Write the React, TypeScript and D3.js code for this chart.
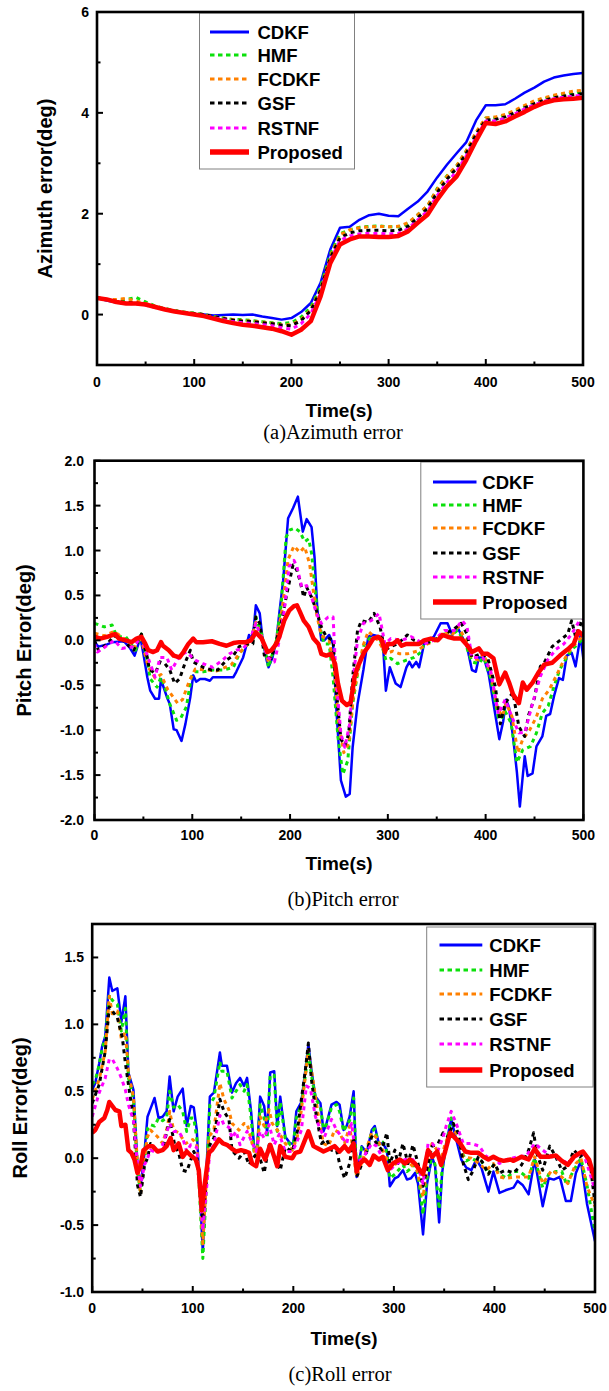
import React from "react";
import * as d3 from "d3";

type Pt = [number, number];

const seriesNames = ["CDKF", "HMF", "FCDKF", "GSF", "RSTNF", "Proposed"];
const seriesColors = ["#0000ff", "#0be00b", "#ff8000", "#000000", "#ff00ff", "#ff0000"];
const seriesWidths = [2.5, 3, 3, 3, 3, 4.5];
const legendWidths = [3, 3, 3, 3, 3, 5.5];
const seriesDash = [undefined, "4 4", "4 4", "4 4", "4 4", undefined];
const timeMajor = [0, 100, 200, 300, 400, 500];
const timeMinor = [50, 150, 250, 350, 450];

// (a) azimuth error, sampled every 10 s
const azTime = d3.range(0, 501, 10);
const azCDKF = [0.33, 0.28, 0.24, 0.22, 0.22, 0.2, 0.15, 0.1, 0.06, 0.03, 0.01, 0.0, -0.02, -0.01, 0.0, -0.01, 0.0, -0.04, -0.07, -0.1, -0.07, 0.05, 0.23, 0.63, 1.29, 1.72, 1.74, 1.88, 1.97, 2.0, 1.96, 1.95, 2.1, 2.24, 2.44, 2.72, 2.97, 3.2, 3.42, 3.85, 4.15, 4.15, 4.17, 4.28, 4.4, 4.5, 4.62, 4.7, 4.74, 4.77, 4.79];
const azHMF = [0.33, 0.3, 0.28, 0.3, 0.34, 0.25, 0.17, 0.12, 0.08, 0.05, 0.03, 0.0, -0.04, -0.07, -0.1, -0.1, -0.12, -0.14, -0.16, -0.18, -0.16, -0.05, 0.15, 0.55, 1.2, 1.6, 1.68, 1.73, 1.75, 1.76, 1.74, 1.74, 1.8, 1.98, 2.15, 2.5, 2.75, 2.95, 3.25, 3.6, 3.9, 3.9, 3.95, 4.03, 4.12, 4.2, 4.28, 4.33, 4.37, 4.4, 4.42];
const azFCDKF = [0.33, 0.3, 0.3, 0.32, 0.27, 0.22, 0.16, 0.11, 0.07, 0.04, 0.02, 0.0, -0.04, -0.07, -0.1, -0.12, -0.13, -0.15, -0.17, -0.2, -0.2, -0.1, 0.1, 0.5, 1.15, 1.58, 1.68, 1.72, 1.74, 1.75, 1.74, 1.75, 1.82, 1.98, 2.16, 2.48, 2.74, 2.95, 3.25, 3.62, 3.9, 3.92, 3.97, 4.05, 4.15, 4.24, 4.3, 4.35, 4.39, 4.43, 4.45];
const azGSF = [0.33, 0.3, 0.26, 0.24, 0.23, 0.2, 0.15, 0.1, 0.07, 0.04, 0.02, 0.0, -0.04, -0.08, -0.11, -0.13, -0.14, -0.16, -0.18, -0.21, -0.22, -0.12, 0.08, 0.48, 1.12, 1.52, 1.62, 1.66, 1.67, 1.67, 1.66, 1.67, 1.75, 1.92, 2.1, 2.42, 2.68, 2.9, 3.2, 3.57, 3.86, 3.87, 3.92, 4.0, 4.1, 4.18, 4.25, 4.3, 4.33, 4.36, 4.38];
const azRSTNF = [0.33, 0.3, 0.25, 0.22, 0.21, 0.19, 0.14, 0.1, 0.06, 0.03, 0.0, -0.02, -0.06, -0.1, -0.14, -0.16, -0.18, -0.2, -0.22, -0.26, -0.29, -0.18, 0.02, 0.42, 1.08, 1.47, 1.56, 1.6, 1.61, 1.61, 1.6, 1.61, 1.7, 1.88, 2.05, 2.36, 2.62, 2.84, 3.15, 3.52, 3.84, 3.84, 3.9, 3.98, 4.08, 4.16, 4.23, 4.28, 4.31, 4.33, 4.35];
const azProposed = [0.33, 0.3, 0.25, 0.22, 0.22, 0.2, 0.15, 0.1, 0.06, 0.03, 0.0, -0.03, -0.08, -0.13, -0.17, -0.2, -0.22, -0.25, -0.28, -0.33, -0.4, -0.3, -0.13, 0.36, 1.02, 1.39, 1.49, 1.55, 1.55, 1.54, 1.54, 1.56, 1.65, 1.82, 1.98, 2.28, 2.54, 2.74, 3.07, 3.45, 3.8, 3.78, 3.83, 3.93, 4.02, 4.12, 4.2, 4.25, 4.27, 4.28, 4.3];

// (b) pitch error, [time, value]
const pitchCDKF: Pt[] = [[0,-0.02],[4,-0.07],[12,-0.05],[18,-0.02],[30,-0.01],[36,-0.08],[41,-0.17],[47,0.03],[50,-0.15],[54,-0.41],[57,-0.56],[62,-0.65],[66,-0.65],[68,-0.43],[70,-0.5],[74,-0.63],[77,-0.71],[81,-0.99],[84,-1.0],[89,-1.12],[93,-0.93],[98,-0.63],[101,-0.39],[104,-0.46],[108,-0.43],[113,-0.43],[118,-0.45],[121,-0.41],[142,-0.41],[145,-0.35],[152,-0.19],[155,-0.07],[158,0.06],[160,0.0],[163,0.15],[165,0.39],[169,0.3],[172,0.0],[176,-0.22],[178,-0.3],[182,-0.19],[186,0.0],[189,0.3],[193,0.67],[198,1.36],[203,1.47],[208,1.6],[213,1.21],[217,1.35],[222,1.26],[225,0.93],[228,0.33],[232,0.0],[235,0.0],[240,0.06],[244,-0.04],[247,-0.7],[252,-1.56],[257,-1.74],[261,-1.71],[264,-1.19],[269,-0.71],[275,-0.33],[280,0.04],[285,0.06],[292,0.04],[295,-0.04],[298,-0.56],[302,-0.3],[308,-0.48],[313,-0.52],[319,-0.3],[322,-0.24],[325,-0.3],[329,-0.24],[332,-0.3],[337,-0.04],[347,0.04],[354,0.19],[361,0.19],[366,0.06],[371,0.15],[376,0.04],[381,-0.07],[386,-0.33],[390,-0.35],[393,-0.19],[398,-0.19],[403,-0.37],[408,-0.7],[414,-1.1],[418,-0.9],[421,-0.66],[424,-0.75],[428,-1.07],[432,-1.47],[435,-1.85],[438,-1.51],[440,-1.29],[443,-1.51],[448,-1.48],[452,-1.18],[458,-1.07],[462,-0.84],[466,-0.82],[470,-0.62],[475,-0.42],[479,-0.44],[483,-0.17],[488,-0.14],[492,-0.29],[497,0.05],[500,-0.21]];
const pitchHMF: Pt[] = [[0,0.19],[5,0.17],[10,0.15],[18,0.17],[23,0.04],[32,0.04],[42,-0.11],[48,0.07],[54,-0.22],[57,-0.43],[64,-0.52],[68,-0.41],[72,-0.52],[77,-0.71],[84,-0.89],[88,-0.87],[94,-0.74],[99,-0.41],[103,-0.35],[111,-0.35],[121,-0.33],[132,-0.33],[142,-0.3],[148,-0.15],[155,-0.06],[162,0.0],[165,0.26],[171,0.07],[176,-0.19],[178,-0.3],[186,0.0],[191,0.41],[196,1.15],[200,1.23],[205,1.25],[210,1.21],[215,1.1],[219,1.13],[222,0.97],[227,0.41],[232,0.07],[235,-0.04],[240,-0.04],[244,-0.41],[249,-1.08],[254,-1.49],[259,-1.34],[264,-0.71],[269,-0.37],[276,-0.04],[283,0.04],[292,0.02],[298,-0.22],[303,-0.2],[310,-0.26],[319,-0.22],[327,-0.19],[334,-0.13],[337,-0.04],[347,0.0],[358,0.07],[364,0.04],[371,0.11],[378,0.0],[386,-0.24],[393,-0.26],[398,-0.19],[405,-0.41],[413,-0.86],[416,-0.88],[420,-0.79],[426,-0.92],[432,-1.36],[438,-1.22],[446,-1.18],[452,-1.03],[458,-0.81],[464,-0.73],[470,-0.51],[476,-0.32],[482,-0.21],[488,-0.1],[495,-0.04],[500,0.04]];
const pitchFCDKF: Pt[] = [[0,0.08],[10,0.05],[20,0.1],[30,0.02],[40,-0.1],[47,0.05],[55,-0.3],[62,-0.42],[68,-0.38],[75,-0.55],[85,-0.7],[90,-0.66],[97,-0.45],[103,-0.32],[115,-0.33],[125,-0.34],[140,-0.27],[150,-0.12],[160,0.0],[165,0.2],[170,0.08],[178,-0.25],[186,0.0],[192,0.35],[198,0.9],[204,1.05],[210,0.98],[215,1.04],[220,0.85],[227,0.3],[232,0.05],[240,0.0],[245,-0.3],[250,-0.95],[255,-1.25],[260,-1.15],[265,-0.6],[270,-0.3],[275,-0.05],[280,0.1],[290,0.0],[298,-0.15],[305,-0.12],[312,-0.15],[320,-0.15],[330,-0.12],[338,-0.05],[350,0.0],[358,0.1],[365,0.05],[372,0.15],[380,0.0],[386,-0.2],[393,-0.22],[398,-0.15],[405,-0.35],[412,-0.75],[417,-0.85],[421,-0.7],[427,-0.85],[433,-1.25],[438,-1.1],[445,-1.0],[452,-0.85],[458,-0.65],[465,-0.55],[472,-0.4],[480,-0.22],[488,-0.08],[495,0.0],[500,0.05]];
const pitchGSF: Pt[] = [[0,0.0],[4,-0.11],[13,-0.04],[20,0.05],[27,0.02],[40,-0.11],[48,0.07],[54,-0.19],[56,-0.32],[62,-0.37],[67,-0.24],[72,-0.26],[77,-0.33],[82,-0.48],[87,-0.43],[93,-0.24],[98,-0.11],[101,-0.24],[111,-0.3],[120,-0.33],[126,-0.33],[135,-0.22],[142,-0.17],[148,-0.07],[155,-0.04],[162,-0.04],[165,0.26],[169,0.19],[174,-0.19],[181,-0.2],[186,0.0],[191,0.19],[196,0.48],[203,0.84],[207,0.78],[210,0.67],[214,0.48],[217,0.59],[222,0.48],[227,0.33],[232,0.15],[237,0.04],[244,0.0],[247,-0.52],[252,-1.1],[256,-1.17],[260,-1.04],[264,-0.41],[269,0.11],[273,0.22],[280,0.2],[286,0.3],[292,0.15],[297,-0.11],[303,-0.07],[310,-0.04],[320,0.06],[327,0.0],[337,-0.04],[347,0.0],[358,0.07],[368,0.13],[375,0.19],[381,0.07],[386,-0.19],[395,-0.15],[402,-0.19],[410,-0.52],[415,-0.93],[420,-0.7],[428,-0.58],[434,-0.96],[440,-1.07],[444,-0.83],[450,-0.64],[456,-0.29],[460,-0.25],[468,-0.07],[476,0.0],[484,0.07],[488,0.22],[492,0.04],[498,0.22],[500,0.15]];
const pitchRSTNF: Pt[] = [[0,-0.04],[3,-0.13],[10,-0.08],[20,0.0],[28,-0.09],[40,-0.07],[48,0.04],[55,-0.2],[62,-0.41],[67,-0.19],[74,-0.19],[79,-0.33],[87,-0.17],[94,-0.13],[103,-0.22],[111,-0.26],[121,-0.3],[131,-0.22],[138,-0.15],[145,-0.11],[152,-0.09],[159,0.0],[165,0.19],[171,0.02],[177,-0.19],[184,-0.24],[189,0.0],[194,0.33],[199,0.82],[204,0.89],[207,0.82],[212,0.59],[217,0.61],[222,0.48],[227,0.3],[232,0.19],[239,0.26],[244,0.26],[247,-0.41],[252,-1.04],[256,-1.19],[261,-0.93],[264,-0.48],[269,0.0],[275,0.19],[283,0.22],[291,0.3],[297,-0.04],[303,0.02],[314,0.0],[324,0.04],[337,-0.04],[347,0.0],[358,0.11],[368,0.11],[376,0.22],[381,0.15],[386,-0.19],[397,-0.19],[405,-0.33],[413,-0.82],[420,-0.66],[428,-0.88],[434,-1.03],[440,-1.03],[448,-0.7],[456,-0.4],[464,-0.21],[472,-0.1],[480,-0.04],[488,0.07],[496,0.22],[500,0.25]];
const pitchProposed: Pt[] = [[0,0.04],[6,0.02],[13,0.04],[21,0.07],[25,0.02],[32,0.0],[38,-0.02],[43,0.02],[48,0.04],[52,-0.04],[55,-0.11],[60,-0.13],[64,-0.11],[68,-0.02],[70,-0.06],[76,-0.11],[81,-0.17],[87,-0.19],[91,-0.13],[96,-0.04],[101,0.02],[104,-0.02],[111,-0.02],[120,-0.01],[128,-0.04],[135,-0.06],[142,-0.03],[148,-0.02],[155,-0.02],[160,0.0],[165,0.09],[171,0.02],[177,-0.13],[181,-0.11],[186,-0.04],[189,0.04],[194,0.22],[199,0.33],[204,0.38],[207,0.39],[210,0.32],[214,0.22],[219,0.15],[224,0.02],[229,-0.04],[232,-0.15],[237,-0.17],[242,-0.15],[246,-0.26],[249,-0.48],[253,-0.67],[258,-0.72],[262,-0.69],[266,-0.41],[269,-0.3],[273,-0.2],[276,-0.13],[280,-0.07],[285,0.02],[290,0.04],[294,0.0],[297,-0.13],[300,-0.04],[305,-0.04],[310,0.0],[314,-0.06],[319,-0.04],[325,-0.04],[332,-0.04],[337,0.0],[344,0.02],[351,0.0],[356,0.06],[361,0.04],[368,0.02],[375,0.02],[380,-0.04],[386,-0.13],[393,-0.09],[397,-0.15],[402,-0.15],[408,-0.2],[414,-0.49],[420,-0.36],[424,-0.47],[428,-0.6],[434,-0.7],[438,-0.47],[442,-0.55],[448,-0.47],[454,-0.36],[460,-0.27],[468,-0.25],[476,-0.17],[484,-0.1],[490,-0.04],[495,0.1],[500,0.05]];

// (c) roll error, [time, value]
const rollCDKF: Pt[] = [[0,0.51],[3,0.56],[7,0.71],[10,0.84],[13,0.91],[17,1.35],[20,1.25],[25,1.27],[29,1.02],[33,1.21],[36,0.64],[41,0.51],[45,-0.04],[48,-0.21],[51,-0.04],[55,0.31],[58,0.37],[62,0.45],[66,0.3],[70,0.31],[74,0.35],[77,0.61],[81,0.35],[85,0.46],[90,0.52],[94,0.24],[98,0.39],[101,0.38],[104,0.21],[110,-0.7],[113,-0.19],[117,0.46],[121,0.49],[127,0.79],[129,0.69],[134,0.69],[139,0.49],[143,0.56],[147,0.6],[151,0.54],[154,0.6],[158,0.35],[161,0.09],[164,0.07],[167,0.46],[171,0.39],[174,0.19],[177,0.64],[181,0.65],[184,0.24],[187,0.46],[192,0.16],[197,0.11],[200,0.11],[203,0.35],[208,0.42],[212,0.66],[215,0.85],[218,0.66],[222,0.46],[227,0.41],[230,0.2],[233,0.26],[238,0.4],[243,0.42],[246,0.4],[250,0.21],[253,0.24],[256,0.31],[260,0.5],[263,-0.14],[268,0.09],[273,0.04],[278,0.21],[281,0.24],[285,0.11],[289,0.11],[293,0.06],[296,-0.21],[301,-0.15],[304,-0.14],[309,-0.09],[313,-0.16],[317,-0.15],[321,-0.11],[324,-0.19],[329,-0.57],[333,-0.19],[338,0.01],[341,-0.06],[345,-0.48],[348,-0.11],[352,0.11],[357,0.29],[362,0.14],[367,-0.01],[372,-0.07],[377,-0.09],[382,-0.01],[387,-0.07],[394,-0.25],[399,-0.1],[405,-0.26],[411,-0.24],[419,-0.22],[423,-0.17],[428,-0.2],[434,-0.27],[440,-0.01],[448,-0.36],[454,-0.15],[459,-0.16],[465,-0.14],[471,-0.32],[476,-0.32],[481,-0.11],[486,-0.02],[492,-0.34],[500,-0.62]];
const rollHMF: Pt[] = [[0,0.55],[3,0.58],[7,0.7],[10,0.82],[13,0.9],[17,1.22],[20,1.18],[25,1.15],[29,0.95],[33,1.12],[36,0.6],[41,0.45],[45,-0.1],[48,-0.25],[51,-0.1],[55,0.22],[58,0.25],[62,0.24],[66,0.3],[70,0.28],[74,0.3],[77,0.5],[81,0.38],[85,0.4],[90,0.35],[94,0.2],[98,0.3],[101,0.3],[104,0.15],[110,-0.75],[113,-0.3],[117,0.4],[121,0.45],[127,0.72],[129,0.65],[134,0.65],[139,0.45],[143,0.5],[147,0.55],[151,0.5],[154,0.55],[158,0.3],[161,0.05],[164,0.02],[167,0.4],[171,0.3],[174,0.15],[177,0.62],[181,0.62],[184,0.2],[187,0.42],[192,0.15],[197,0.1],[200,0.1],[203,0.3],[208,0.4],[212,0.62],[215,0.8],[218,0.62],[222,0.45],[227,0.38],[230,0.22],[233,0.25],[238,0.38],[243,0.4],[246,0.35],[250,0.2],[253,0.25],[256,0.28],[260,0.45],[263,-0.13],[268,0.08],[273,0.05],[278,0.2],[281,0.22],[285,0.1],[289,0.12],[293,0.05],[296,-0.15],[301,-0.12],[309,-0.05],[313,-0.1],[321,-0.05],[324,-0.12],[329,-0.42],[333,-0.15],[338,0.02],[341,-0.05],[345,-0.38],[348,-0.08],[352,0.1],[357,0.3],[362,0.2],[367,0.05],[372,-0.02],[377,0.0],[382,-0.02],[387,-0.02],[394,-0.12],[399,-0.05],[405,-0.12],[412,-0.15],[419,-0.1],[425,-0.1],[434,-0.15],[440,0.0],[448,-0.22],[454,-0.12],[461,-0.1],[467,-0.1],[472,-0.2],[478,-0.1],[486,0.0],[492,-0.2],[500,-0.55]];
const rollFCDKF: Pt[] = [[0,0.44],[7,0.59],[13,0.8],[17,1.21],[20,1.08],[25,1.1],[29,0.89],[33,0.94],[36,0.64],[41,0.46],[45,-0.04],[48,-0.27],[52,0.0],[55,0.16],[58,0.21],[65,0.16],[70,0.11],[75,0.24],[77,0.35],[81,0.21],[86,0.19],[93,0.11],[100,0.14],[104,0.11],[110,-0.64],[116,0.16],[121,0.21],[127,0.56],[131,0.44],[136,0.36],[139,0.26],[146,0.21],[151,0.26],[154,0.26],[159,0.11],[163,0.01],[167,0.31],[171,0.24],[176,0.36],[179,0.26],[186,0.19],[192,0.11],[199,0.06],[204,0.16],[208,0.36],[215,0.81],[220,0.56],[225,0.31],[230,0.11],[235,0.09],[241,0.21],[246,0.19],[251,0.11],[256,0.24],[263,-0.14],[270,0.01],[278,0.19],[283,0.15],[289,0.06],[296,-0.06],[303,-0.04],[309,-0.04],[316,-0.04],[323,-0.09],[329,-0.29],[334,-0.01],[338,0.11],[343,0.06],[346,-0.04],[351,0.11],[357,0.21],[362,0.19],[369,0.01],[377,0.0],[385,-0.04],[392,-0.09],[399,-0.04],[405,-0.14],[411,-0.15],[423,-0.14],[434,-0.14],[440,0.01],[448,-0.19],[457,-0.09],[467,-0.14],[473,-0.19],[481,-0.04],[486,0.0],[492,-0.21],[500,-0.36]];
const rollGSF: Pt[] = [[0,0.41],[7,0.55],[13,0.8],[17,1.13],[25,1.05],[30,0.9],[33,0.71],[37,0.5],[41,0.3],[45,-0.2],[48,-0.29],[52,-0.05],[55,0.0],[58,0.11],[65,0.05],[70,0.06],[77,0.29],[82,0.1],[86,0.04],[90,-0.09],[94,-0.1],[101,0.05],[104,0.0],[110,-0.46],[117,0.1],[121,0.15],[127,0.44],[131,0.35],[136,0.29],[139,0.06],[146,0.0],[151,0.05],[156,-0.05],[160,0.0],[165,0.05],[171,-0.11],[176,0.1],[182,0.0],[187,-0.09],[192,0.08],[199,0.05],[204,0.2],[208,0.44],[212,0.66],[215,0.86],[218,0.59],[223,0.31],[228,0.11],[233,0.14],[238,0.06],[243,0.06],[246,-0.04],[251,-0.15],[256,-0.04],[260,0.16],[263,-0.14],[270,-0.01],[278,0.16],[283,0.11],[288,0.06],[293,0.19],[296,-0.04],[301,0.06],[304,-0.04],[309,0.11],[314,-0.04],[319,0.1],[324,-0.04],[329,-0.21],[334,-0.04],[338,0.09],[344,0.11],[349,0.19],[354,0.16],[359,0.26],[364,0.19],[369,-0.04],[374,-0.16],[379,-0.09],[384,0.01],[389,-0.04],[394,-0.12],[400,-0.04],[405,-0.11],[411,-0.09],[419,-0.11],[427,-0.05],[434,0.06],[439,0.19],[442,0.04],[448,-0.09],[455,0.09],[461,0.01],[467,-0.09],[473,-0.06],[479,0.06],[485,0.01],[490,0.04],[496,-0.09],[500,-0.34]];
const rollRSTNF: Pt[] = [[0,0.31],[7,0.49],[13,0.6],[17,0.74],[20,0.74],[25,0.67],[29,0.6],[33,0.51],[36,0.4],[41,0.28],[45,-0.05],[48,-0.21],[52,-0.05],[55,0.0],[58,0.06],[65,0.04],[70,0.1],[77,0.26],[81,0.2],[86,0.2],[90,0.15],[94,0.05],[98,0.1],[104,0.08],[110,-0.54],[117,0.05],[121,0.1],[127,0.32],[131,0.25],[136,0.23],[139,0.15],[143,0.2],[147,0.1],[154,0.2],[160,0.1],[163,0.05],[167,0.2],[171,0.15],[176,0.25],[181,0.1],[186,0.18],[192,0.05],[199,0.05],[203,0.11],[208,0.21],[213,0.54],[217,0.52],[222,0.31],[227,0.21],[231,0.16],[238,0.29],[243,0.21],[248,0.16],[253,0.11],[258,0.26],[263,-0.04],[270,0.01],[278,0.11],[283,0.09],[291,-0.04],[296,-0.09],[303,-0.04],[311,-0.01],[319,-0.01],[326,-0.11],[329,-0.19],[334,0.11],[338,0.11],[344,0.06],[349,0.16],[352,0.24],[357,0.35],[362,0.26],[369,0.11],[377,0.11],[385,0.09],[392,0.01],[399,0.01],[405,-0.04],[412,-0.01],[423,0.01],[432,0.02],[440,0.11],[448,0.06],[457,0.01],[467,-0.01],[473,-0.04],[481,0.01],[488,0.05],[494,-0.09],[500,-0.24]];
const rollProposed: Pt[] = [[0,0.19],[3,0.21],[7,0.27],[12,0.3],[15,0.36],[17,0.42],[20,0.39],[23,0.36],[27,0.35],[29,0.24],[33,0.25],[36,0.06],[39,0.04],[42,-0.01],[45,-0.11],[48,-0.06],[51,0.06],[56,0.09],[60,0.09],[65,0.05],[70,0.06],[74,0.09],[78,0.15],[81,0.06],[86,0.11],[90,0.01],[94,0.05],[98,0.02],[103,-0.01],[106,-0.09],[109,-0.39],[112,-0.19],[116,0.04],[119,0.06],[126,0.14],[130,0.11],[134,0.1],[139,0.07],[143,0.05],[148,0.06],[153,0.05],[156,0.04],[159,-0.04],[163,-0.06],[167,0.07],[172,-0.01],[177,0.1],[181,0.01],[184,-0.06],[187,0.09],[192,0.01],[199,0.0],[202,0.04],[207,0.05],[215,0.2],[220,0.09],[225,0.07],[230,0.05],[236,0.07],[241,0.09],[246,0.05],[251,0.09],[255,0.05],[260,0.11],[263,-0.1],[266,-0.04],[271,-0.01],[276,-0.05],[280,0.02],[285,-0.01],[289,0.01],[294,-0.09],[299,-0.04],[306,-0.01],[311,-0.04],[316,-0.01],[321,-0.04],[324,-0.07],[329,-0.12],[334,0.06],[338,0.01],[343,0.05],[347,-0.05],[351,0.05],[356,0.19],[361,0.15],[366,0.11],[371,0.05],[377,0.04],[384,0.04],[389,0.01],[394,-0.01],[399,0.01],[404,-0.01],[409,-0.02],[416,-0.01],[419,-0.02],[427,0.01],[434,-0.01],[440,0.07],[446,0.01],[454,0.01],[461,0.02],[467,-0.02],[473,-0.05],[479,0.01],[485,0.04],[488,0.05],[494,-0.01],[500,-0.16]];

const SANS = "'Liberation Sans', Arial, Helvetica, sans-serif";
const SERIF = "'Liberation Serif', 'Times New Roman', serif";

const pair = (vals: number[]): Pt[] => azTime.map((t, i) => [t, vals[i]] as Pt);

interface LegendSpec { x0: number; x1: number; y0: number; y1: number; rows: number[]; lx0: number; lx1: number; tx: number }
interface PanelSpec {
  id: string;
  left: number; right: number; top: number; bottom: number;
  yDomain: [number, number]; yMajor: number[]; yMinor: number[]; yFmt: (v: number) => string;
  yLabelRight: number;
  data: Pt[][];
  legend: LegendSpec;
  yTitle: string; yTitleX: number;
  tickY: number; xTitleX: number; xTitleY: number;
  caption: string; captionX: number; captionY: number;
}

const panels: PanelSpec[] = [
  {
    id: "a", left: 97, right: 583, top: 12, bottom: 365,
    yDomain: [-1, 6], yMajor: [0, 2, 4, 6], yMinor: [1, 3, 5], yFmt: v => String(v), yLabelRight: 89,
    data: [pair(azCDKF), pair(azHMF), pair(azFCDKF), pair(azGSF), pair(azRSTNF), pair(azProposed)],
    legend: { x0: 199.5, x1: 354.5, y0: 13, y1: 169, rows: [32, 55, 79, 103, 128, 152], lx0: 210, lx1: 249, tx: 257.5 },
    yTitle: "Azimuth error(deg)", yTitleX: 52,
    tickY: 387, xTitleX: 339, xTitleY: 417,
    caption: "(a)Azimuth error", captionX: 333, captionY: 439,
  },
  {
    id: "b", left: 94.5, right: 583.4, top: 460.7, bottom: 820,
    yDomain: [-2, 2], yMajor: [-2, -1.5, -1, -0.5, 0, 0.5, 1, 1.5, 2], yMinor: [-1.75, -1.25, -0.75, -0.25, 0.25, 0.75, 1.25, 1.75],
    yFmt: v => v.toFixed(1), yLabelRight: 84,
    data: [pitchCDKF, pitchHMF, pitchFCDKF, pitchGSF, pitchRSTNF, pitchProposed],
    legend: { x0: 420.8, x1: 583.4, y0: 462, y1: 619, rows: [482, 505, 528, 553, 577, 602], lx0: 433, lx1: 476.5, tx: 482.3 },
    yTitle: "Pitch Error(deg)", yTitleX: 31,
    tickY: 840, xTitleX: 339, xTitleY: 870,
    caption: "(b)Pitch error", captionX: 343, captionY: 906,
  },
  {
    id: "c", left: 92.2, right: 595, top: 924, bottom: 1292,
    yDomain: [-1, 1.75], yMajor: [-1, -0.5, 0, 0.5, 1, 1.5], yMinor: [-0.75, -0.25, 0.25, 0.75, 1.25],
    yFmt: v => v.toFixed(1), yLabelRight: 84,
    data: [rollCDKF, rollHMF, rollFCDKF, rollGSF, rollRSTNF, rollProposed],
    legend: { x0: 426.7, x1: 593, y0: 927, y1: 1087, rows: [945, 970, 994, 1019, 1044, 1070], lx0: 439.5, lx1: 482.3, tx: 489.3 },
    yTitle: "Roll Error(deg)", yTitleX: 26.5,
    tickY: 1313, xTitleX: 344, xTitleY: 1345,
    caption: "(c)Roll error", captionX: 340, captionY: 1381,
  },
];

function Panel({ p }: { p: PanelSpec }) {
  const x = d3.scaleLinear().domain([0, 500]).range([p.left, p.right]);
  const y = d3.scaleLinear().domain(p.yDomain).range([p.bottom, p.top]);
  const line = d3.line<Pt>().x(d => x(d[0])).y(d => y(d[1]));
  const clip = `clip-${p.id}`;
  const lg = p.legend;
  return (
    <g>
      <defs>
        <clipPath id={clip}>
          <rect x={p.left} y={p.top} width={p.right - p.left} height={p.bottom - p.top} />
        </clipPath>
      </defs>
      <g clipPath={`url(#${clip})`}>
        {p.data.map((d, i) => (
          <path key={i} d={line(d) || ""} fill="none" stroke={seriesColors[i]} strokeWidth={seriesWidths[i]}
            strokeDasharray={seriesDash[i]} strokeLinejoin="round" />
        ))}
      </g>
      {/* legend */}
      <rect x={lg.x0} y={lg.y0} width={lg.x1 - lg.x0} height={lg.y1 - lg.y0} fill="#fff" stroke="#808080" strokeWidth={1} />
      {seriesNames.map((name, i) => (
        <g key={name}>
          <line x1={lg.lx0} x2={lg.lx1} y1={lg.rows[i]} y2={lg.rows[i]} stroke={seriesColors[i]}
            strokeWidth={legendWidths[i]} strokeDasharray={seriesDash[i] ? "4.5 3.5" : undefined} />
          <text x={lg.tx} y={lg.rows[i]} dy="0.36em" fontFamily={SANS} fontWeight="bold" fontSize={18.5}>{name}</text>
        </g>
      ))}
      {/* frame */}
      <rect x={p.left} y={p.top} width={p.right - p.left} height={p.bottom - p.top} fill="none" stroke="#000" strokeWidth={2.6} />
      {/* y ticks */}
      {p.yMajor.map(v => (
        <g key={`ym${v}`}>
          <line x1={p.left} x2={p.left + 6} y1={y(v)} y2={y(v)} stroke="#000" strokeWidth={2} />
          <text x={p.yLabelRight} y={y(v)} dy="0.36em" textAnchor="end" fontFamily={SANS} fontWeight="bold" fontSize={14}>{p.yFmt(v)}</text>
        </g>
      ))}
      {p.yMinor.map(v => (
        <line key={`yn${v}`} x1={p.left} x2={p.left + 3.5} y1={y(v)} y2={y(v)} stroke="#000" strokeWidth={2} />
      ))}
      {/* x ticks */}
      {timeMajor.map(t => (
        <g key={`xm${t}`}>
          <line x1={x(t)} x2={x(t)} y1={p.bottom} y2={p.bottom - 6} stroke="#000" strokeWidth={2} />
          <text x={x(t)} y={p.tickY} textAnchor="middle" fontFamily={SANS} fontWeight="bold" fontSize={14}>{t}</text>
        </g>
      ))}
      {timeMinor.map(t => (
        <line key={`xn${t}`} x1={x(t)} x2={x(t)} y1={p.bottom} y2={p.bottom - 3.5} stroke="#000" strokeWidth={2} />
      ))}
      {/* titles */}
      <text transform={`translate(${p.yTitleX},${(p.top + p.bottom) / 2}) rotate(-90)`} textAnchor="middle"
        fontFamily={SANS} fontWeight="bold" fontSize={20}>{p.yTitle}</text>
      <text x={p.xTitleX} y={p.xTitleY} textAnchor="middle" fontFamily={SANS} fontWeight="bold" fontSize={19}>Time(s)</text>
      <text x={p.captionX} y={p.captionY} textAnchor="middle" fontFamily={SERIF} fontSize={20.5}>{p.caption}</text>
    </g>
  );
}

export default function App() {
  return (
    <svg width={609} height={1391} viewBox="0 0 609 1391"
      style={{ position: "absolute", left: 0, top: 0, background: "#fff", display: "block" }}>
      <rect width={609} height={1391} fill="#fff" />
      {panels.map(p => <Panel key={p.id} p={p} />)}
    </svg>
  );
}
